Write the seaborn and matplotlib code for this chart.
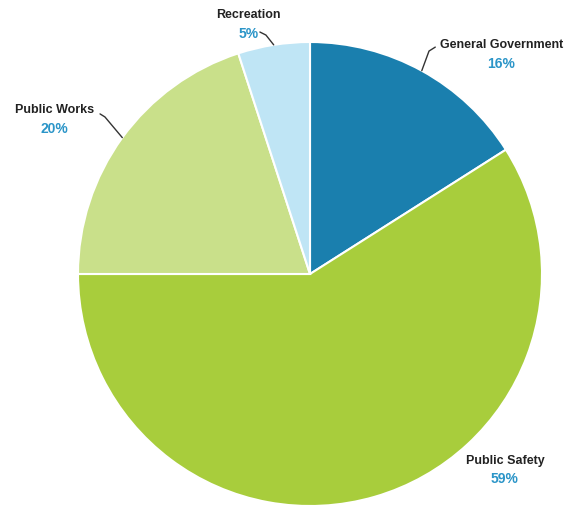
import numpy as np
import matplotlib
matplotlib.use("Agg")
import matplotlib.pyplot as plt
import seaborn as sns

# Budget shares by department (percent)
departments = ["General Government", "Public Safety", "Public Works", "Recreation"]
shares = [16, 59, 20, 5]
colors = ["#1a7fae", "#a8cd3c", "#c9e08a", "#bfe5f5"]

sns.set_theme(style="white")
plt.rcParams["font.family"] = ["Liberation Sans", "DejaVu Sans"]

fig = plt.figure(figsize=(5.78, 5.06), dpi=100)
ax = fig.add_axes([78 / 578, -1 / 506, 464 / 578, 464 / 506])

wedges, _ = ax.pie(shares, colors=colors, startangle=90, counterclock=False,
                   radius=1, wedgeprops=dict(edgecolor="white", linewidth=1.5))
ax.set_xlim(-1, 1)
ax.set_ylim(-1, 1)
ax.set_aspect("equal")
ax.axis("off")

# label placement (text centre, leader path in radial units)
layout = {
    "General Government": dict(xy=(0.825, 0.99), leader=[(0.513, 0.961), (0.54, 0.978)]),
    "Public Safety": dict(xy=(0.84, -0.80), leader=None),
    "Public Works": dict(xy=(-1.10, 0.71), leader=[(-0.884, 0.677), (-0.905, 0.69)]),
    "Recreation": dict(xy=(-0.265, 1.12), leader=[(-0.19, 1.03), (-0.216, 1.043)]),
}

for w, name, val in zip(wedges, departments, shares):
    spec = layout[name]
    tx, ty = spec["xy"]
    ax.text(tx, ty, name, ha="center", va="center", fontsize=9,
            fontweight="bold", color="#222222", clip_on=False)
    ax.text(tx, ty - 0.08, f"{val}%", ha="center", va="center", fontsize=10,
            fontweight="bold", color="#2b95c8", clip_on=False)
    if spec["leader"]:
        mid = np.deg2rad((w.theta1 + w.theta2) / 2)
        pts = [(np.cos(mid), np.sin(mid))] + spec["leader"]
        xs, ys = zip(*pts)
        ax.plot(xs, ys, color="#333333", lw=1, clip_on=False)

fig.savefig("out.png", dpi=100, facecolor="white")
